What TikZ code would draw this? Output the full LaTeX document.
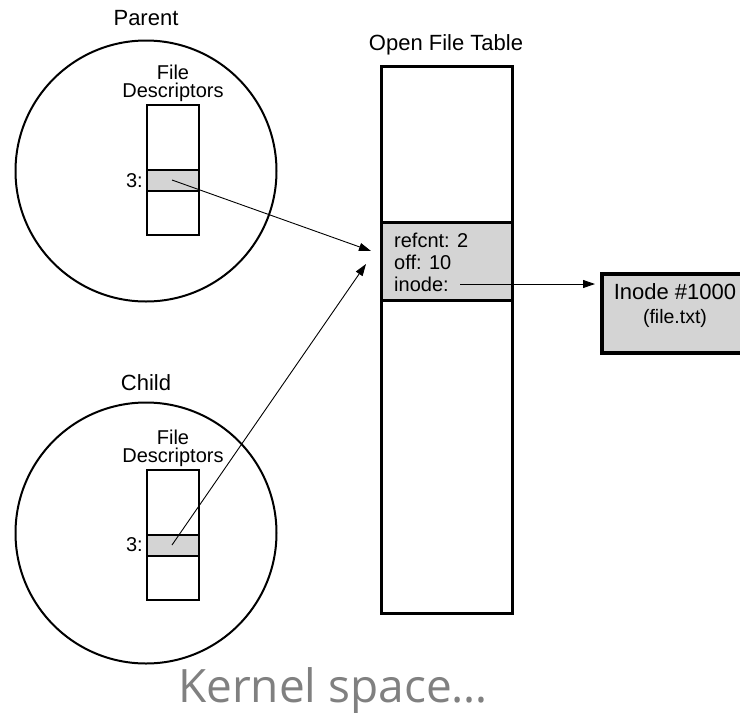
\documentclass[tikz,border=0pt]{standalone}
\usepackage{fontspec}
\setmainfont{Liberation Sans}
\newfontfamily\kfont{Open Sans}
\usetikzlibrary{arrows.meta}
\begin{document}
\begin{tikzpicture}[x=1pt,y=-1pt,
  lbl/.style={inner sep=0pt, font=\fontsize{22}{24}\selectfont},
  small/.style={inner sep=0pt, font=\fontsize{20}{18}\selectfont},
  fdlbl/.style={inner sep=0pt, font=\fontsize{20}{19}\selectfont},
  proc/.style={circle, draw, line width=2pt, minimum size=261pt, inner sep=0pt},
  fdbox/.style={draw, line width=1.5pt, minimum width=52pt, minimum height=130pt, inner sep=0pt},
  fdrow/.style={draw, line width=1.5pt, fill=black!17, minimum width=52pt, minimum height=21pt, inner sep=0pt},
  tablebox/.style={draw, line width=3pt, minimum width=131pt, minimum height=547pt, inner sep=0pt},
  tablerow/.style={draw, line width=3pt, fill=black!17, minimum width=131pt, minimum height=78pt, inner sep=0pt},
  inodebox/.style={draw, line width=3.5pt, fill=black!17, minimum width=150pt, minimum height=79pt, inner sep=0pt},
  ptr/.style={-{Triangle[length=12pt,width=8pt]}, line width=0.9pt}]
\useasboundingbox (0,0) rectangle (740,713);
\begin{scope}
\clip (0,0) rectangle (740,713);
% Parent
\node[lbl] (ptitle) at (146,18) {Parent};
\node[proc] (pc) at (146,171) {};
\node[fdlbl, anchor=base] (pfdA) at (173,79) {File};
\node[fdlbl, anchor=base] (pfdB) at (173,97) {Descriptors};
\node[fdbox] (pbox) at (173,170) {};
\node[fdrow] (prow) at (173,180.5) {};
\node[small, anchor=east] (p3) at (143,181) {3:};
% Child
\node[lbl] (ctitle) at (146,383) {Child};
\node[proc] (cc) at (146,533) {};
\node[fdlbl, anchor=base] (cfdA) at (173,444) {File};
\node[fdlbl, anchor=base] (cfdB) at (173,462) {Descriptors};
\node[fdbox] (cbox) at (173,535) {};
\node[fdrow] (crow) at (173,545.5) {};
\node[small, anchor=east] (c3) at (143,545) {3:};
% Open file table
\node[lbl] (ttitle) at (446,45) {Open File Table};
\node[tablebox] (table) at (446.5,339.5) {};
\node[tablerow] (trow) at (446.5,261) {};
\node[small, anchor=west] (refcnt) at (394,240) {refcnt: 2};
\node[small, anchor=west] (off) at (394,262) {off: 10};
\node[small, anchor=west] (inode) at (394,284) {inode:};
% Inode
\node[inodebox] (ibox) at (677,313.5) {};
\node[lbl] (ititle) at (675,292) {Inode \#1000};
\node[inner sep=0pt, font=\fontsize{19.5}{20}\selectfont] (ifile) at (675,318) {(file.txt)};
% connectors
\coordinate (pstart) at (172,180);
\coordinate (pend) at (371,251);
\coordinate (cstart) at (172,545);
\coordinate (cend) at (366,264);
\coordinate (istart) at (460,284);
\coordinate (iend) at (595,284);
\draw[ptr] (pstart) -- (pend);
\draw[ptr] (cstart) -- (cend);
\draw[ptr] (istart) -- (iend);
% caption
\node[inner sep=0pt, anchor=base, text=black!50, font=\kfont\fontsize{46}{50}\selectfont] (kernel) at (333,702) {Kernel space…};
\end{scope}
\end{tikzpicture}
\end{document}
